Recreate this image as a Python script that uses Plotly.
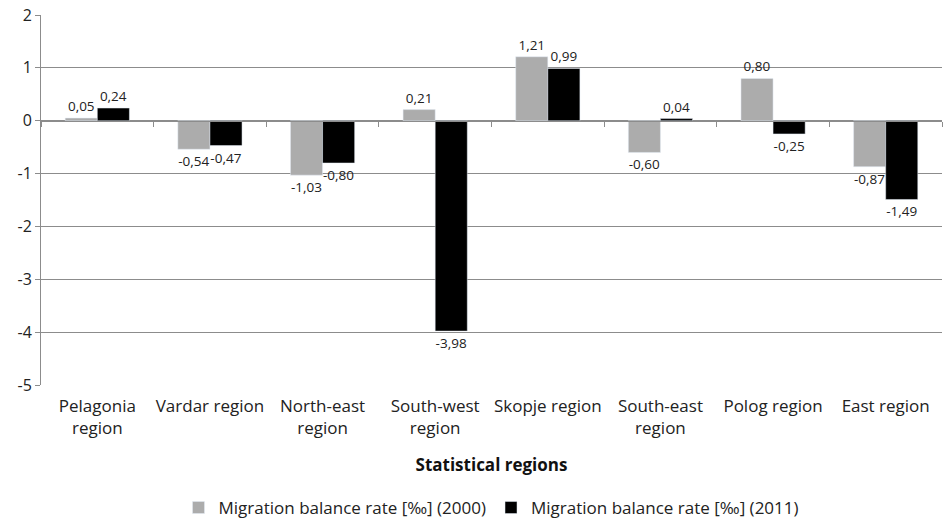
import plotly.graph_objects as go

regions = ["Pelagonia<br>region", "Vardar region", "North-east<br>region", "South-west<br>region",
           "Skopje region", "South-east<br>region", "Polog region", "East region"]
rate_2000 = [0.05, -0.54, -1.03, 0.21, 1.21, -0.60, 0.80, -0.87]
rate_2011 = [0.24, -0.47, -0.80, -3.98, 0.99, 0.04, -0.25, -1.49]
y_ticks = [2, 1, 0, -1, -2, -3, -4, -5]
y_tick_labels = ["2", "1", "0", "-1", "-2", "-3", "-4", "-5"]
name_2000 = "Migration balance rate [‰] (2000)"
name_2011 = "Migration balance rate [‰] (2011)"


def fmt(v):
    return f"{v:.2f}".replace(".", ",")


font_family = "Open Sans, Liberation Sans, sans-serif"
grid_col = "#8c8c8c"

fig = go.Figure()
fig.add_trace(go.Bar(
    x=regions, y=rate_2000, name=name_2000, marker_color="#acacac",
    text=[fmt(v) for v in rate_2000], textposition="outside", cliponaxis=False,
    textfont=dict(size=13.5, color="#222"),
))
fig.add_trace(go.Bar(
    x=regions, y=rate_2011, name=name_2011, marker_color="#000000",
    text=[fmt(v) for v in rate_2011], textposition="outside", cliponaxis=False,
    textfont=dict(size=13.5, color="#222"),
))
# invisible trace carrying the category axis drawn through zero
fig.add_trace(go.Scatter(x=regions, y=[0] * len(regions), xaxis="x2", mode="markers",
                         marker=dict(opacity=0), showlegend=False, hoverinfo="skip"))

ymin, ymax = -5, 2
fig.update_layout(
    width=943, height=527,
    margin=dict(l=41, r=1, t=15, b=142),
    paper_bgcolor="white", plot_bgcolor="white",
    font=dict(family=font_family, color="#222"),
    barmode="group", bargap=0.43, bargroupgap=0,
    showlegend=True,
    legend=dict(orientation="h", x=0.5, xanchor="center", y=-0.381, yanchor="bottom",
                font=dict(size=17, color="#222"), itemwidth=30, traceorder="normal",
                tracegroupgap=0),
    xaxis=dict(
        type="category", categoryorder="array", categoryarray=regions,
        range=[-0.5, len(regions) - 0.5], automargin=False,
        showgrid=False, showline=False, ticks="", zeroline=False,
        ticklabelstandoff=9,
        tickfont=dict(size=17, color="#222"),
        title=dict(text="<b>Statistical regions</b>", font=dict(size=17, color="#111"), standoff=21),
    ),
    xaxis2=dict(
        type="category", categoryorder="array", categoryarray=regions,
        range=[-0.5, len(regions) - 0.5],
        overlaying="x", anchor="free", position=(0 - ymin) / (ymax - ymin),
        showgrid=False, showline=True, linecolor=grid_col, linewidth=1,
        ticks="outside", tickson="boundaries", ticklen=5, tickcolor=grid_col,
        showticklabels=False, zeroline=False,
    ),
    yaxis=dict(
        range=[ymin, ymax], tickvals=y_ticks, ticktext=y_tick_labels, automargin=False,
        showgrid=True, gridcolor=grid_col, gridwidth=1,
        zeroline=True, zerolinecolor=grid_col, zerolinewidth=1,
        showline=True, linecolor=grid_col, linewidth=1,
        ticks="outside", ticklen=5, tickcolor=grid_col,
        tickfont=dict(size=16, color="#222"),
    ),
)

fig.write_html("out.html")
